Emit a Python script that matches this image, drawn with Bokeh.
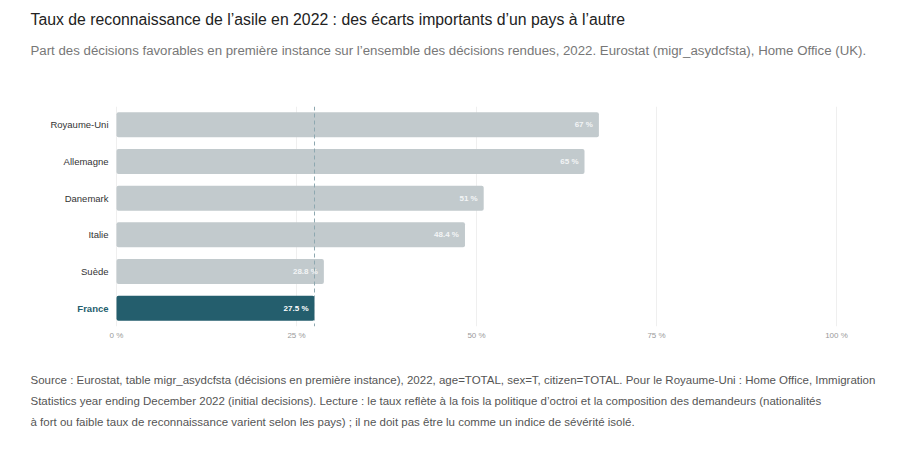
from bokeh.plotting import figure
from bokeh.models import ColumnDataSource, Span, FixedTicker, Range1d, Title, LinearAxis
from bokeh.core.properties import value
from bokeh.embed import file_html
from bokeh.resources import INLINE

# ---- data ----
countries = ["Royaume-Uni", "Allemagne", "Danemark", "Italie", "Suède", "France"]
rates = [67.0, 65.0, 51.0, 48.4, 28.8, 27.5]
rate_labels = ["67 %", "65 %", "51 %", "48.4 %", "28.8 %", "27.5 %"]
highlight = "France"
x_ticks = [0, 25, 50, 75, 100]
x_tick_labels = ["0 %", "25 %", "50 %", "75 %", "100 %"]

title_text = "Taux de reconnaissance de l’asile en 2022 : des écarts importants d’un pays à l’autre"
subtitle_text = ("Part des décisions favorables en première instance sur l’ensemble des décisions rendues, 2022. "
                 "Eurostat (migr_asydcfsta), Home Office (UK).")
note_lines = [
    "Source : Eurostat, table migr_asydcfsta (décisions en première instance), 2022, age=TOTAL, sex=T, citizen=TOTAL. Pour le Royaume-Uni : Home Office, Immigration",
    "Statistics year ending December 2022 (initial decisions). Lecture : le taux reflète à la fois la politique d’octroi et la composition des demandeurs (nationalités",
    "à fort ou faible taux de reconnaissance varient selon les pays) ; il ne doit pas être lu comme un indice de sévérité isolé.",
]

# ---- style / layout ----
FONT = "Liberation Sans"
GREY = "#c2cacd"
TEAL = "#245e6d"
W, H = 900, 455
PAD_L, PAD_R = 116, 64          # pixels left of 0 % and right of 100 %
unit = (W - PAD_L - PAD_R) / 100.0
x_start = -PAD_L / unit

bar_colors = [TEAL if c == highlight else GREY for c in countries]
value_colors = ["#ffffff" if c == highlight else "#f3f5f6" for c in countries]

source = ColumnDataSource(dict(
    country=countries, rate=rates, label=rate_labels,
    bar_color=bar_colors, value_color=value_colors,
))
src_others = ColumnDataSource(dict(country=[c for c in countries if c != highlight]))
src_high = ColumnDataSource(dict(country=[highlight]))

p = figure(width=W, height=H,
           y_range=list(reversed(countries)),
           x_range=Range1d(x_start, 100 + PAD_R / unit),
           output_backend="svg", toolbar_location=None,
           min_border_left=0, min_border_right=0,
           min_border_top=106, min_border_bottom=129)

p.hbar(y="country", left=0, right="rate", height=0.68, source=source,
       fill_color="bar_color", line_color=None, border_radius=2)

p.add_layout(Span(location=rates[countries.index(highlight)], dimension="height",
                  line_color="#8ea8b0", line_dash="4 3", line_width=1))

p.text(x="rate", y="country", text="label", source=source,
       x_offset=-6, text_align="right", text_baseline="middle",
       text_font=value(FONT), text_font_size="8px",
       text_font_style="bold", text_color="value_color")

p.text(x=0, y="country", text="country", source=src_others,
       x_offset=-8, text_align="right", text_baseline="middle",
       text_font=value(FONT), text_font_size="9.5px", text_color="#333333")
p.text(x=0, y="country", text="country", source=src_high,
       x_offset=-8, text_align="right", text_baseline="middle",
       text_font=value(FONT), text_font_size="9.5px",
       text_font_style="bold", text_color=TEAL)

p.yaxis.visible = False
p.ygrid.grid_line_color = None
p.xgrid.ticker = FixedTicker(ticks=x_ticks)
p.xgrid.grid_line_color = "#efefef"
xa = p.xaxis[0]
xa.ticker = FixedTicker(ticks=x_ticks)
xa.major_label_overrides = dict(zip(x_ticks, x_tick_labels))
xa.axis_line_color = None
xa.major_tick_line_color = None
xa.minor_tick_line_color = None
xa.major_tick_out = 0
xa.major_tick_in = 0
xa.minor_tick_out = 0
xa.major_label_text_font = FONT
xa.major_label_text_font_size = "8px"
xa.major_label_text_color = "#9a9a9a"
xa.major_label_standoff = 4
p.outline_line_color = None


def spacer(px):
    # an invisible axis (white tick at the canvas' left edge, no label) that only reserves space
    return LinearAxis(ticker=FixedTicker(ticks=[x_start]), axis_line_color=None,
                      major_label_overrides={x_start: ""}, major_label_text_font_size="1px",
                      major_tick_out=px, major_tick_in=0, minor_tick_out=0, minor_tick_in=0,
                      major_tick_line_color="white", minor_tick_line_color=None,
                      major_label_standoff=0)


# header (closest to frame first)
p.add_layout(spacer(32), "above")
p.add_layout(Title(text=subtitle_text, align="left", offset=30, vertical_align="top",
                   standoff=30, text_font=FONT, text_font_size="13.25px",
                   text_font_style="normal", text_color="#777777"), "above")
p.add_layout(Title(text=title_text, align="left", offset=30, vertical_align="bottom",
                   standoff=0, text_font=FONT, text_font_size="15.8px",
                   text_font_style="normal", text_color="#222222"), "above")

# footnote below the axis
p.add_layout(spacer(28), "below")
for line in note_lines:
    p.add_layout(Title(text=line, align="left", offset=30, vertical_align="top",
                       standoff=7, text_font=FONT, text_font_size="11.5px",
                       text_font_style="normal", text_color="#555555"), "below")

open("out.html", "w").write(file_html(p, INLINE))
